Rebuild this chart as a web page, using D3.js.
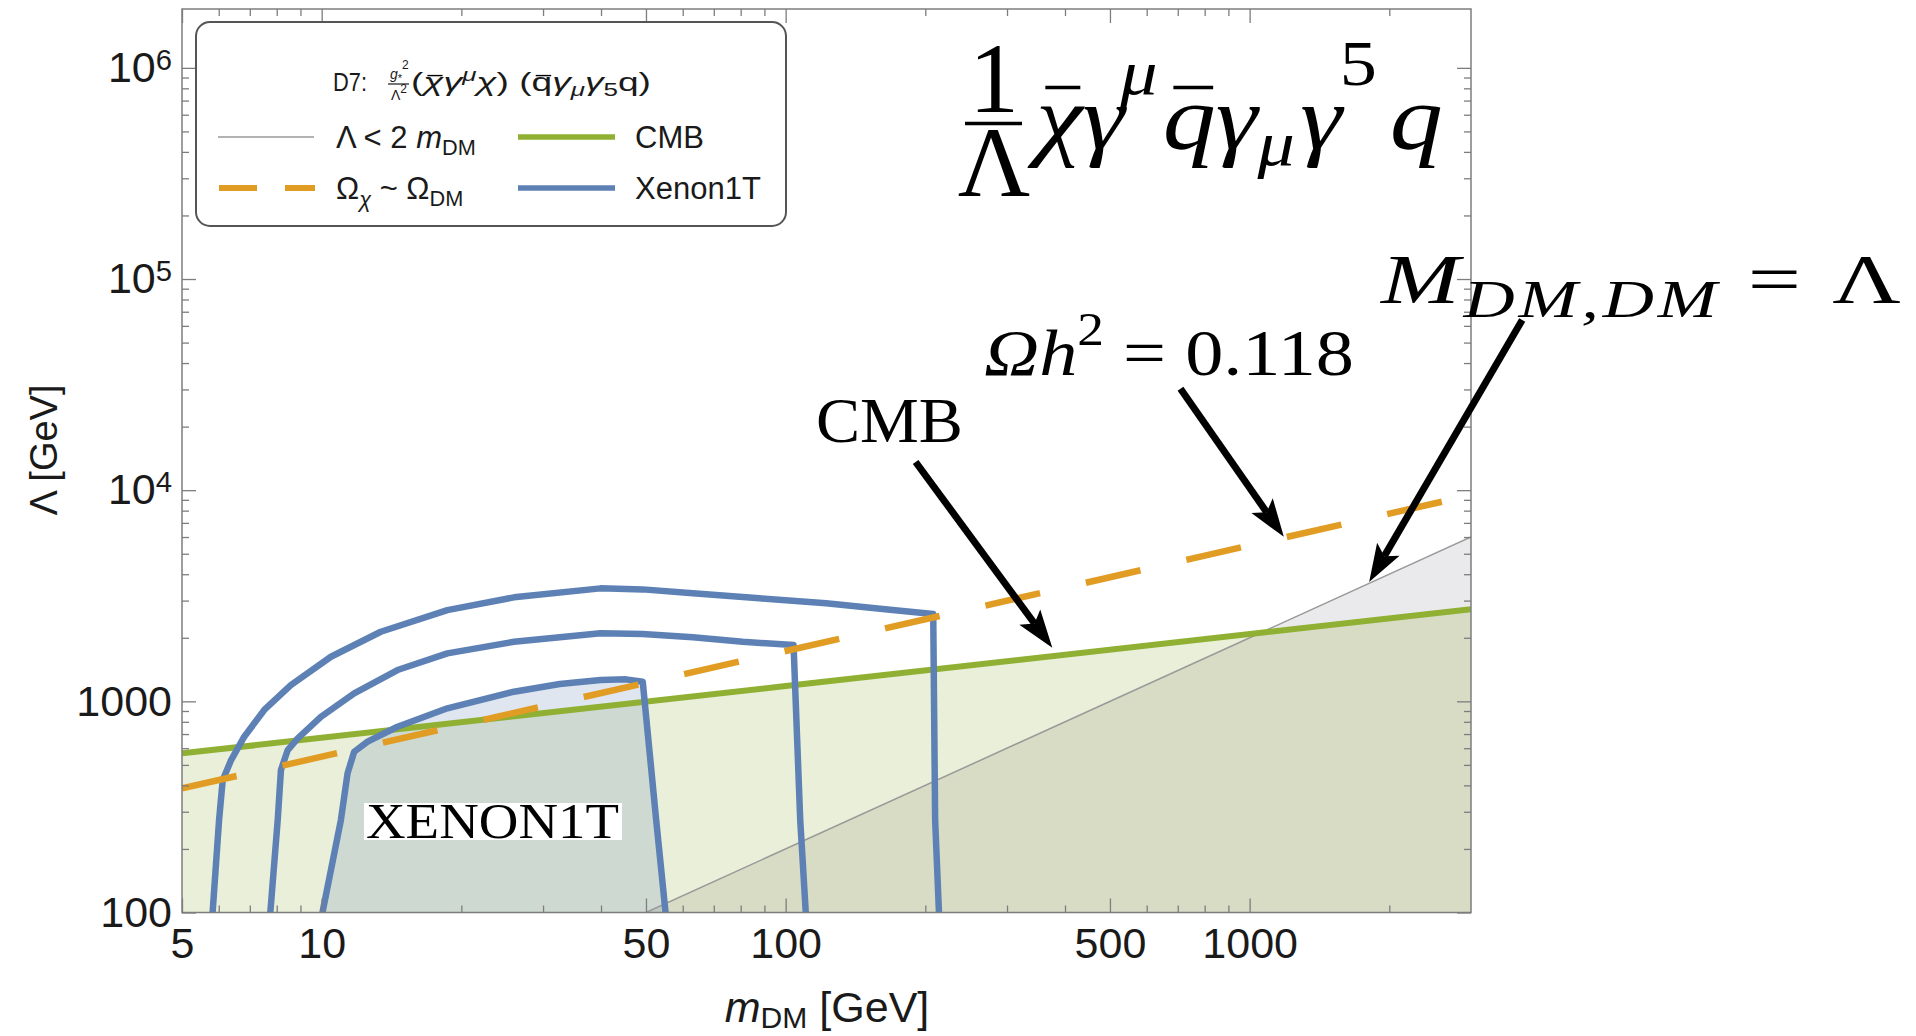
<!DOCTYPE html>
<html><head><meta charset="utf-8">
<script src="https://cdn.jsdelivr.net/npm/d3@7/dist/d3.min.js"></script>
<style>html,body{margin:0;padding:0;background:#fff}svg{display:block}</style>
</head><body>
<svg id="c" width="1916" height="1036"></svg>
<script>
// ---------------- data ----------------
const xTickValues = [5, 10, 50, 100, 500, 1000];
const xTickLabels = ["5", "10", "50", "100", "500", "1000"];
const yTickValues = [100, 1000, 1e4, 1e5, 1e6];
const yTickLabels = ["100", "1000", "10^4", "10^5", "10^6"];

// CMB bound (green)
const cmbMass   = [5, 100, 3000];
const cmbLambda = [567, 1181, 2730];
// relic density Omega h^2 = 0.118 (orange dashed)
const relicMass   = [5, 3000];
const relicLambda = [387, 9480];
// Lambda < 2 m_DM (gray)
const kinMass   = [50, 3000];
const kinLambda = [100, 6000];

// Xenon1T contours (blue)
const xenonOuterMass   = [5.82, 6.01, 6.12, 6.38, 6.81, 7.52, 8.58, 10.47, 13.41, 18.66, 25.97, 39.9, 49.2, 63.1, 87.8, 122.2, 170, 208, 210, 214];
const xenonOuterLambda = [100, 274, 424, 527, 680, 910, 1194, 1626, 2136, 2705, 3108, 3428, 3390, 3246, 3074, 2911, 2705, 2590, 274, 100];
const xenonMidMass     = [7.75, 8.04, 8.17, 8.45, 8.88, 9.96, 11.75, 14.57, 18.66, 25.97, 39.9, 49.2, 63.1, 80.8, 104, 107.5, 110.5];
const xenonMidLambda   = [100, 274, 473, 588, 668, 845, 1091, 1407, 1688, 1915, 2099, 2084, 2009, 1915, 1847, 274, 100];
const xenonInnerMass   = [10.04, 11.0, 11.37, 11.75, 12.56, 14.57, 18.66, 25.97, 32.6, 39.9, 45.3, 49.2, 52.6, 55.1];
const xenonInnerLambda = [100, 274, 456, 577, 644, 758, 927, 1111, 1208, 1261, 1271, 1239, 274, 100];

// annotation arrows (data coordinates)
const arrowTailMass   = [190.6, 709.6, 3868];
const arrowTailLambda = [13600, 30240, 63890];
const arrowTipMass    = [375.6, 1185, 1810];
const arrowTipLambda  = [1795, 6012, 3673];

// ---------------- setup ----------------
const svg = d3.select("#c");
const W = 1916, H = 1036;
const L = 182, R = 1471, T = 9, B = 912.5;
const x = d3.scaleLog().domain([5, 3000]).range([L, R]);
const y = d3.scaleLog().domain([100, 1.9e6]).range([B, T]);
const C = {blue: "#5E81B5", orange: "#E19C24", green: "#8FB032", gray: "#999999"};
const SANS = "'Liberation Sans', Arial, sans-serif";
const SERIF = "'Liberation Serif', 'DejaVu Serif', serif";
const zip = (a, b) => a.map((v, i) => [v, b[i]]);
const line = d3.line().x(d => x(d[0])).y(d => y(d[1]));
const areaB = d3.area().x(d => x(d[0])).y0(B).y1(d => y(d[1]));

svg.append("rect").attr("width", W).attr("height", H).attr("fill", "#fff");

const cmb = zip(cmbMass, cmbLambda);
const relic = zip(relicMass, relicLambda);
const kin = zip(kinMass, kinLambda);
const xOut = zip(xenonOuterMass, xenonOuterLambda);
const xMid = zip(xenonMidMass, xenonMidLambda);
const xIn = zip(xenonInnerMass, xenonInnerLambda);

const defs = svg.append("defs");
defs.append("clipPath").attr("id", "plotClip").append("rect")
  .attr("x", L).attr("y", T).attr("width", R - L).attr("height", B - T);
defs.append("clipPath").attr("id", "cmbClip").append("path").attr("d", areaB(cmb));

// ---------------- regions & curves ----------------
const plot = svg.append("g").attr("clip-path", "url(#plotClip)");
plot.append("path").attr("d", areaB(cmb)).attr("fill", "#eaefd9");
plot.append("path").attr("d", areaB(kin)).attr("fill", "#eaeaed");
plot.append("g").attr("clip-path", "url(#cmbClip)")
  .append("path").attr("d", areaB(kin)).attr("fill", "#d8dcc4");
plot.append("path").attr("d", line(xIn) + "Z").attr("fill", C.blue).attr("fill-opacity", 0.2);

plot.append("path").attr("d", line(kin)).attr("fill", "none")
  .attr("stroke", C.gray).attr("stroke-width", 1.5);
plot.append("path").attr("d", line(cmb)).attr("fill", "none")
  .attr("stroke", C.green).attr("stroke-width", 6);
[xOut, xMid, xIn].forEach(p => plot.append("path").attr("d", line(p)).attr("fill", "none")
  .attr("stroke", C.blue).attr("stroke-width", 6.5).attr("stroke-linejoin", "round"));
plot.append("path").attr("d", line(relic)).attr("fill", "none")
  .attr("stroke", C.orange).attr("stroke-width", 6.5).attr("stroke-dasharray", "56,47");

// ---------------- frame & axes ----------------
const tickCol = "#7d7d7d";
function styleAxis(g) {
  g.select(".domain").remove();
  g.selectAll(".tick line").attr("stroke", tickCol).attr("stroke-width", 1.3);
  g.selectAll(".tick text").attr("font-family", SANS).attr("font-size", 43).attr("fill", "#1a1a1a");
}
const xMinor = x.ticks().filter(v => !xTickValues.includes(v) && v > 5 && v < 2999);
const yMinor = y.ticks().filter(v => !yTickValues.includes(v));

svg.append("g").attr("transform", `translate(0,${B})`)
  .call(d3.axisBottom(x).tickValues(xTickValues).tickFormat((d, i) => xTickLabels[i]).tickSize(-14).tickPadding(15))
  .call(styleAxis);
svg.append("g").attr("transform", `translate(0,${B})`)
  .call(d3.axisBottom(x).tickValues(xMinor).tickFormat("").tickSize(-7)).call(styleAxis);
svg.append("g").attr("transform", `translate(0,${T})`)
  .call(d3.axisTop(x).tickValues(xTickValues).tickFormat("").tickSize(-14)).call(styleAxis);
svg.append("g").attr("transform", `translate(0,${T})`)
  .call(d3.axisTop(x).tickValues(xMinor).tickFormat("").tickSize(-7)).call(styleAxis);

const gy = svg.append("g").attr("transform", `translate(${L},0)`)
  .call(d3.axisLeft(y).tickValues(yTickValues).tickFormat((d, i) => yTickLabels[i]).tickSize(-14).tickPadding(10))
  .call(styleAxis);
gy.selectAll(".tick text").each(function (d, i) {
  const s = yTickLabels[i];
  if (s.includes("^")) {
    const [b, e] = s.split("^");
    const t = d3.select(this).text(null);
    t.append("tspan").text(b);
    t.append("tspan").text(e).attr("dy", "-0.42em").attr("font-size", "0.68em");
  }
});
svg.append("g").attr("transform", `translate(${L},0)`)
  .call(d3.axisLeft(y).tickValues(yMinor).tickFormat("").tickSize(-7)).call(styleAxis);
svg.append("g").attr("transform", `translate(${R},0)`)
  .call(d3.axisRight(y).tickValues(yTickValues).tickFormat("").tickSize(-14)).call(styleAxis);
svg.append("g").attr("transform", `translate(${R},0)`)
  .call(d3.axisRight(y).tickValues(yMinor).tickFormat("").tickSize(-7)).call(styleAxis);

svg.append("rect").attr("x", L).attr("y", T).attr("width", R - L).attr("height", B - T)
  .attr("fill", "none").attr("stroke", tickCol).attr("stroke-width", 1.5);

// ---------------- rich text helper ----------------
function rich(parent, x0, y0, size, family, parts, anchor) {
  const t = parent.append("text").attr("x", x0).attr("y", y0)
    .attr("font-family", family).attr("font-size", size)
    .attr("text-anchor", anchor || "start").attr("fill", "#000");
  let cur = 0, idx = 0;
  const bars = [];
  parts.forEach(p => {
    const sh = (p.sh || 0) * size;
    const ts = t.append("tspan").text(p.t).attr("dy", sh - cur).attr("font-size", size * (p.s || 1));
    if (p.it) ts.attr("font-style", "italic");
    if (p.dx) ts.attr("dx", p.dx * size);
    if (p.bar) bars.push(idx);
    idx += p.t.length;
    cur = sh;
  });
  t.bars = bars;
  return t;
}
function overlines(parent, t, off, sw) {
  const n = t.node();
  t.bars.forEach(i => {
    const e = n.getExtentOfChar(i);
    parent.append("line").attr("x1", e.x + e.width * 0.2).attr("x2", e.x + e.width * 0.95)
      .attr("y1", e.y + off).attr("y2", e.y + off).attr("stroke", "#000").attr("stroke-width", sw);
  });
}
function fitWidth(t, x0, w) {
  const bb = t.node().getBBox();
  const k = w / bb.width;
  t.attr("transform", `translate(${x0},0) scale(${k},1) translate(${-x0},0)`);
}

// ---------------- axis titles ----------------
svg.append("text").attr("transform", "translate(44,450) rotate(-90)")
  .attr("text-anchor", "middle").attr("dominant-baseline", "central")
  .attr("font-family", SANS).attr("font-size", 38).attr("fill", "#1a1a1a").text("Λ [GeV]");
rich(svg, 827, 1022, 43, SANS, [
  {t: "m", it: true}, {t: "DM", s: 0.7, sh: 0.13}, {t: " [GeV]", sh: 0}
], "middle").attr("fill", "#1a1a1a");

// ---------------- XENON1T label ----------------
svg.append("rect").attr("x", 364).attr("y", 803).attr("width", 258).attr("height", 37).attr("fill", "#fff");
const xl = svg.append("text").attr("x", 366).attr("y", 838).attr("font-family", SERIF)
  .attr("font-size", 50).attr("fill", "#000").text("XENON1T");
fitWidth(xl, 366, 253);

// ---------------- arrows ----------------
const ann = svg.append("g");
arrowTipMass.forEach((m, i) => {
  const p0 = [x(arrowTailMass[i]), y(arrowTailLambda[i])];
  const p1 = [x(m), y(arrowTipLambda[i])];
  const dx = p1[0] - p0[0], dy = p1[1] - p0[1], len = Math.hypot(dx, dy);
  const u = [dx / len, dy / len], nn = [-u[1], u[0]];
  const hl = 38, hw = 13, notch = 8;
  const sEnd = [p1[0] - u[0] * (hl - notch), p1[1] - u[1] * (hl - notch)];
  ann.append("line").attr("x1", p0[0]).attr("y1", p0[1]).attr("x2", sEnd[0]).attr("y2", sEnd[1])
    .attr("stroke", "#000").attr("stroke-width", 7);
  const b = [p1[0] - u[0] * hl, p1[1] - u[1] * hl];
  ann.append("path").attr("fill", "#000").attr("d",
    `M${p1[0]},${p1[1]}L${b[0] + nn[0] * hw},${b[1] + nn[1] * hw}L${sEnd[0]},${sEnd[1]}L${b[0] - nn[0] * hw},${b[1] - nn[1] * hw}Z`);
});

// ---------------- annotation texts ----------------
const t1 = rich(ann, 816, 442, 64, SERIF, [{t: "CMB"}]);
fitWidth(t1, 816, 147);
const t2 = rich(ann, 984, 375, 66, SERIF, [
  {t: "Ω", it: true}, {t: "h", it: true}, {t: "2", s: 0.7, sh: -0.45}, {t: " = 0.118", sh: 0}
]);
fitWidth(t2, 984, 370);
const t3 = rich(ann, 1381, 303, 70, SERIF, [
  {t: "M", it: true}, {t: "DM,DM", it: true, s: 0.75, sh: 0.2}, {t: " = Λ", sh: 0}
]).attr("letter-spacing", "0.04em");
fitWidth(t3, 1381, 525);

// ---------------- big formula ----------------
const fg = svg.append("g");
const frac = fg.append("text").attr("font-family", SERIF).attr("font-size", 100).attr("text-anchor", "middle");
frac.append("tspan").attr("x", 994).attr("y", 112).text("1");
frac.append("tspan").attr("x", 994).attr("y", 196).text("Λ");
fg.append("line").attr("x1", 965).attr("x2", 1022).attr("y1", 123.5).attr("y2", 123.5)
  .attr("stroke", "#000").attr("stroke-width", 3.5);
const fm = rich(fg, 1036, 149, 92, SERIF, [
  {t: "χ", it: true, bar: true}, {t: "γ", it: true}, {t: "μ", it: true, s: 0.7, sh: -0.6, dx: -0.04},
  {t: "q", it: true, sh: 0, dx: 0.05, bar: true}, {t: "γ", it: true}, {t: "μ", it: true, s: 0.7, sh: 0.17},
  {t: "γ", it: true, sh: 0, dx: 0.05}, {t: "5", s: 0.7, sh: -0.7, dx: -0.02}, {t: "q", it: true, sh: 0, dx: 0.12}
]);
fitWidth(fm, 1036, 416);
const fmBars = fg.append("g").attr("transform", fm.attr("transform"));
overlines(fmBars, fm, 20, 3.5);

// ---------------- legend ----------------
const lg = svg.append("g");
lg.append("rect").attr("x", 196).attr("y", 22).attr("width", 590).attr("height", 204).attr("rx", 14)
  .attr("fill", "#fff").attr("stroke", "#555").attr("stroke-width", 2);
const d7 = rich(lg, 333, 91, 25, SANS, [{t: "D7:"}]).attr("fill", "#1a1a1a");
fitWidth(d7, 333, 34);
// small fraction g*^2 / Lambda^2 (one text element)
const lf = lg.append("text").attr("font-family", SANS).attr("font-size", 14).attr("fill", "#1a1a1a");
lf.append("tspan").attr("x", 390).attr("y", 79).attr("font-style", "italic").text("g");
lf.append("tspan").attr("dy", 3).attr("font-size", 11).text("*");
lf.append("tspan").attr("dy", -13).attr("font-size", 12).text("2");
lf.append("tspan").attr("x", 391).attr("y", 100).text("Λ");
lf.append("tspan").attr("dy", -7).attr("font-size", 12).text("2");
lg.append("line").attr("x1", 388).attr("x2", 409).attr("y1", 84).attr("y2", 84).attr("stroke", "#1a1a1a").attr("stroke-width", 1.2);
const ttl = rich(lg, 411, 91, 25, SANS, [
  {t: "(", sh: 0}, {t: "χ", it: true, bar: true}, {t: "γ", it: true}, {t: "μ", it: true, s: 0.7, sh: -0.4},
  {t: "χ", it: true, sh: 0}, {t: ") (", sh: 0}, {t: "q", bar: true}, {t: "γ", it: true},
  {t: "μ", it: true, s: 0.7, sh: 0.2}, {t: "γ", it: true, sh: 0}, {t: "5", s: 0.7, sh: 0.2}, {t: "q)", sh: 0}
]).attr("fill", "#1a1a1a");
fitWidth(ttl, 411, 240);
const ttlBars = lg.append("g").attr("transform", ttl.attr("transform"));
overlines(ttlBars, ttl, 7.5, 1.4);

// legend samples
lg.append("line").attr("x1", 218).attr("x2", 314).attr("y1", 137).attr("y2", 137)
  .attr("stroke", C.gray).attr("stroke-width", 1.5);
lg.append("line").attr("x1", 219).attr("x2", 315).attr("y1", 188).attr("y2", 188)
  .attr("stroke", C.orange).attr("stroke-width", 6).attr("stroke-dasharray", "38,28");
lg.append("line").attr("x1", 518).attr("x2", 615).attr("y1", 137).attr("y2", 137)
  .attr("stroke", C.green).attr("stroke-width", 5.5);
lg.append("line").attr("x1", 518).attr("x2", 615).attr("y1", 188).attr("y2", 188)
  .attr("stroke", C.blue).attr("stroke-width", 5.5);
rich(lg, 336, 148, 31, SANS, [{t: "Λ < 2 "}, {t: "m", it: true}, {t: "DM", s: 0.7, sh: 0.22}]).attr("fill", "#1a1a1a");
rich(lg, 336, 199, 31, SANS, [{t: "Ω"}, {t: "χ", it: true, s: 0.7, sh: 0.25}, {t: " ~ Ω", sh: 0}, {t: "DM", s: 0.7, sh: 0.22}]).attr("fill", "#1a1a1a");
rich(lg, 635, 148, 31, SANS, [{t: "CMB"}]).attr("fill", "#1a1a1a");
rich(lg, 635, 199, 31, SANS, [{t: "Xenon1T"}]).attr("fill", "#1a1a1a");
</script>
</body></html>
